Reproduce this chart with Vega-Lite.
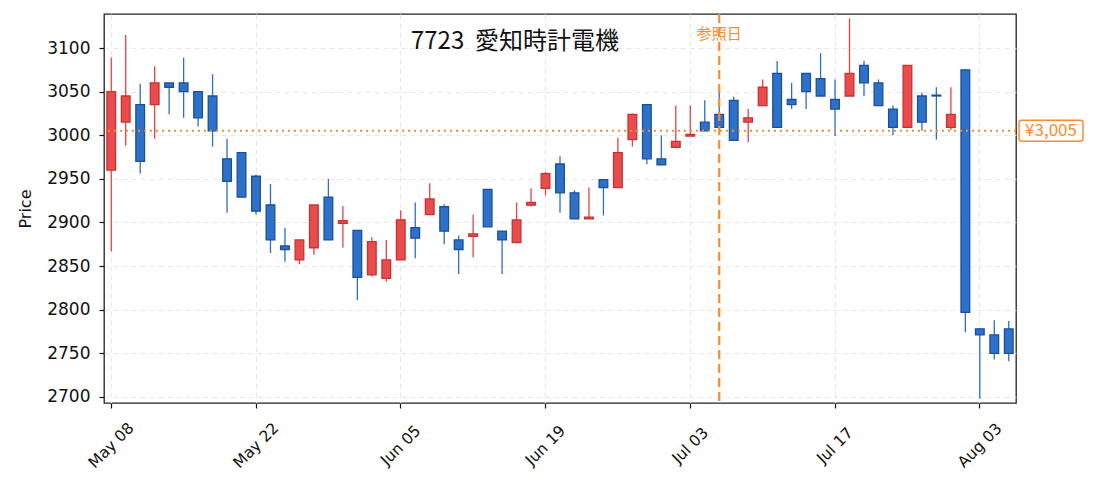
{
  "$schema": "https://vega.github.io/schema/vega-lite/v6.json",
  "width": 912,
  "height": 389,
  "autosize": {"type": "none"},
  "padding": {"left": 104, "top": 14, "right": 79, "bottom": 89},
  "background": "white",
  "title": {
    "text": "7723\u00a0\u00a0愛知時計電機",
    "frame": "group",
    "anchor": "middle",
    "offset": -41,
    "dx": -45,
    "fontSize": 24,
    "fontWeight": "normal",
    "color": "#111"
  },
  "datasets": {
    "prices": [
      {"date": "2024-05-08", "open": 2960, "high": 3089, "low": 2867, "close": 3050},
      {"date": "2024-05-09", "open": 3015, "high": 3115, "low": 2988, "close": 3045},
      {"date": "2024-05-10", "open": 3035, "high": 3059, "low": 2956, "close": 2970},
      {"date": "2024-05-13", "open": 3035, "high": 3079, "low": 2996, "close": 3060},
      {"date": "2024-05-14", "open": 3060, "high": 3060, "low": 3024, "close": 3055},
      {"date": "2024-05-15", "open": 3060, "high": 3089, "low": 3020, "close": 3050},
      {"date": "2024-05-16", "open": 3050, "high": 3050, "low": 3010, "close": 3020},
      {"date": "2024-05-17", "open": 3045, "high": 3070, "low": 2987, "close": 3005},
      {"date": "2024-05-20", "open": 2973, "high": 2996, "low": 2911, "close": 2947},
      {"date": "2024-05-21", "open": 2980, "high": 2980, "low": 2929, "close": 2929},
      {"date": "2024-05-22", "open": 2953, "high": 2955, "low": 2909, "close": 2913},
      {"date": "2024-05-23", "open": 2920, "high": 2944, "low": 2865, "close": 2880},
      {"date": "2024-05-24", "open": 2873, "high": 2894, "low": 2855, "close": 2869},
      {"date": "2024-05-27", "open": 2857, "high": 2880, "low": 2852, "close": 2880},
      {"date": "2024-05-28", "open": 2871, "high": 2920, "low": 2863, "close": 2920},
      {"date": "2024-05-29", "open": 2929, "high": 2950, "low": 2880, "close": 2880},
      {"date": "2024-05-30", "open": 2899, "high": 2919, "low": 2871, "close": 2902},
      {"date": "2024-05-31", "open": 2891, "high": 2891, "low": 2811, "close": 2837},
      {"date": "2024-06-03", "open": 2840, "high": 2883, "low": 2838, "close": 2878},
      {"date": "2024-06-04", "open": 2836, "high": 2880, "low": 2832, "close": 2857},
      {"date": "2024-06-05", "open": 2857, "high": 2914, "low": 2857, "close": 2903},
      {"date": "2024-06-06", "open": 2894, "high": 2923, "low": 2859, "close": 2882},
      {"date": "2024-06-07", "open": 2909, "high": 2945, "low": 2909, "close": 2927},
      {"date": "2024-06-10", "open": 2918, "high": 2921, "low": 2875, "close": 2890},
      {"date": "2024-06-11", "open": 2880, "high": 2885, "low": 2841, "close": 2869},
      {"date": "2024-06-12", "open": 2884, "high": 2909, "low": 2860, "close": 2887},
      {"date": "2024-06-13", "open": 2938, "high": 2938, "low": 2895, "close": 2895},
      {"date": "2024-06-14", "open": 2890, "high": 2890, "low": 2841, "close": 2880},
      {"date": "2024-06-17", "open": 2877, "high": 2923, "low": 2877, "close": 2903},
      {"date": "2024-06-18", "open": 2920, "high": 2939, "low": 2918, "close": 2923},
      {"date": "2024-06-19", "open": 2939, "high": 2958, "low": 2931, "close": 2956},
      {"date": "2024-06-20", "open": 2967, "high": 2976, "low": 2911, "close": 2934},
      {"date": "2024-06-21", "open": 2934, "high": 2937, "low": 2904, "close": 2904},
      {"date": "2024-06-24", "open": 2904, "high": 2940, "low": 2904, "close": 2906},
      {"date": "2024-06-25", "open": 2949, "high": 2949, "low": 2908, "close": 2940},
      {"date": "2024-06-26", "open": 2940, "high": 2997, "low": 2940, "close": 2980},
      {"date": "2024-06-27", "open": 2995, "high": 3025, "low": 2987, "close": 3024},
      {"date": "2024-06-28", "open": 3035, "high": 3035, "low": 2967, "close": 2973},
      {"date": "2024-07-01", "open": 2973, "high": 3000, "low": 2966, "close": 2966},
      {"date": "2024-07-02", "open": 2986, "high": 3034, "low": 2986, "close": 2993},
      {"date": "2024-07-03", "open": 2999, "high": 3034, "low": 2999, "close": 3001},
      {"date": "2024-07-04", "open": 3015, "high": 3040, "low": 3005, "close": 3005},
      {"date": "2024-07-05", "open": 3024, "high": 3053, "low": 3009, "close": 3009},
      {"date": "2024-07-08", "open": 3040, "high": 3044, "low": 2994, "close": 2994},
      {"date": "2024-07-09", "open": 3015, "high": 3030, "low": 2992, "close": 3020},
      {"date": "2024-07-10", "open": 3034, "high": 3064, "low": 3034, "close": 3055},
      {"date": "2024-07-11", "open": 3071, "high": 3085, "low": 3009, "close": 3009},
      {"date": "2024-07-12", "open": 3041, "high": 3060, "low": 3030, "close": 3035},
      {"date": "2024-07-15", "open": 3071, "high": 3071, "low": 3030, "close": 3050},
      {"date": "2024-07-16", "open": 3065, "high": 3094, "low": 3045, "close": 3045},
      {"date": "2024-07-17", "open": 3041, "high": 3064, "low": 2999, "close": 3030},
      {"date": "2024-07-18", "open": 3045, "high": 3134, "low": 3045, "close": 3071},
      {"date": "2024-07-19", "open": 3080, "high": 3085, "low": 3045, "close": 3060},
      {"date": "2024-07-22", "open": 3060, "high": 3064, "low": 3034, "close": 3034},
      {"date": "2024-07-23", "open": 3030, "high": 3034, "low": 3000, "close": 3009},
      {"date": "2024-07-24", "open": 3009, "high": 3080, "low": 3009, "close": 3080},
      {"date": "2024-07-25", "open": 3045, "high": 3049, "low": 3005, "close": 3015},
      {"date": "2024-07-26", "open": 3046, "high": 3055, "low": 2995, "close": 3045},
      {"date": "2024-07-29", "open": 3009, "high": 3055, "low": 3006, "close": 3024},
      {"date": "2024-07-31", "open": 3075, "high": 3075, "low": 2774, "close": 2797},
      {"date": "2024-08-03", "open": 2778, "high": 2779, "low": 2698, "close": 2771},
      {"date": "2024-08-05", "open": 2771, "high": 2788, "low": 2743, "close": 2750},
      {"date": "2024-08-06", "open": 2778, "high": 2787, "low": 2741, "close": 2750}
    ],
    "ref": [
      {"date": "2024-07-05", "price": 3005, "label": "¥3,005", "note": "参照日"}
    ]
  },
  "layer": [
    {
      "data": {"name": "prices"},
      "mark": {"type": "rule", "strokeWidth": 1.3},
      "encoding": {
        "x": {
          "field": "date",
          "type": "ordinal",
          "sort": null,
          "scale": {"type": "band", "paddingInner": 0, "paddingOuter": 0},
          "axis": {
            "title": null,
            "values": ["2024-05-08", "2024-05-22", "2024-06-05", "2024-06-19", "2024-07-03", "2024-07-17", "2024-08-03"],
            "labelExpr": "utcFormat(toDate(datum.value), '%b %d')",
            "labelAngle": -45,
            "labelAlign": "center",
            "labelBaseline": "middle",
            "labelPadding": 37,
            "labelFont": "DejaVu Sans",
            "labelFontSize": 15.5,
            "labelColor": "#111",
            "tickColor": "#111",
            "tickSize": 5,
            "tickWidth": 1.2,
            "bandPosition": 0.5,
            "grid": true,
            "gridColor": "#e8e8e8",
            "gridDash": [5, 4],
            "gridWidth": 1.2,
            "domain": false
          }
        },
        "y": {
          "field": "low",
          "type": "quantitative",
          "scale": {"domain": [2693, 3139], "nice": false, "zero": false},
          "axis": {
            "title": "Price",
            "titleFont": "DejaVu Sans",
            "titleFontSize": 16,
            "titleFontWeight": "normal",
            "titleColor": "#111",
            "titlePadding": 13,
            "values": [2700, 2750, 2800, 2850, 2900, 2950, 3000, 3050, 3100],
            "format": "d",
            "labelFont": "DejaVu Sans",
            "labelFontSize": 17,
            "labelColor": "#111",
            "labelPadding": 9,
            "tickColor": "#111",
            "tickSize": 5,
            "tickWidth": 1.2,
            "grid": true,
            "gridColor": "#e8e8e8",
            "gridDash": [5, 4],
            "gridWidth": 1.2,
            "domain": false
          }
        },
        "y2": {"field": "high"},
        "color": {
          "condition": {"test": "datum.close >= datum.open", "value": "#e24343"},
          "value": "#2b6ec4"
        }
      }
    },
    {
      "data": {"name": "prices"},
      "mark": {"type": "bar", "width": {"band": 0.6}, "strokeWidth": 1.3},
      "encoding": {
        "x": {"field": "date", "type": "ordinal", "sort": null},
        "y": {"field": "open", "type": "quantitative"},
        "y2": {"field": "close"},
        "fill": {
          "condition": {"test": "datum.close >= datum.open", "value": "#e84c4c"},
          "value": "#2d72c8"
        },
        "stroke": {
          "condition": {"test": "datum.close >= datum.open", "value": "#c93232"},
          "value": "#1a4f9e"
        }
      }
    },
    {
      "data": {"name": "ref"},
      "mark": {"type": "rule", "color": "#ff8a2b", "strokeWidth": 2, "strokeDash": [2, 4]},
      "encoding": {"y": {"field": "price", "type": "quantitative"}}
    },
    {
      "data": {"name": "ref"},
      "mark": {"type": "rule", "color": "#ff8a2b", "strokeWidth": 2.2, "strokeDash": [9, 5]},
      "encoding": {"x": {"field": "date", "type": "ordinal", "bandPosition": 0.5}}
    },
    {
      "data": {"name": "ref"},
      "mark": {"type": "text", "color": "#ff8a2b", "fontSize": 15, "align": "center", "baseline": "middle"},
      "encoding": {
        "x": {"field": "date", "type": "ordinal", "bandPosition": 0.5},
        "y": {"datum": 3116},
        "text": {"field": "note"}
      }
    },
    {
      "data": {"name": "ref"},
      "mark": {"type": "rect", "fill": "white", "stroke": "#ff8a2b", "strokeWidth": 1.5, "cornerRadius": 3, "xOffset": 3, "x2Offset": 67, "yOffset": -10.5, "y2Offset": 10.5},
      "encoding": {
        "x": {"value": "width"},
        "x2": {"value": "width"},
        "y": {"field": "price", "type": "quantitative"},
        "y2": {"field": "price"}
      }
    },
    {
      "data": {"name": "ref"},
      "mark": {"type": "text", "color": "#ff8a2b", "fontSize": 17, "align": "center", "baseline": "middle", "dx": 35},
      "encoding": {
        "x": {"value": "width"},
        "y": {"field": "price", "type": "quantitative"},
        "text": {"field": "label"}
      }
    }
  ],
  "config": {
    "font": "Noto Sans CJK JP",
    "view": {"stroke": "#222", "strokeWidth": 1.3}
  }
}
